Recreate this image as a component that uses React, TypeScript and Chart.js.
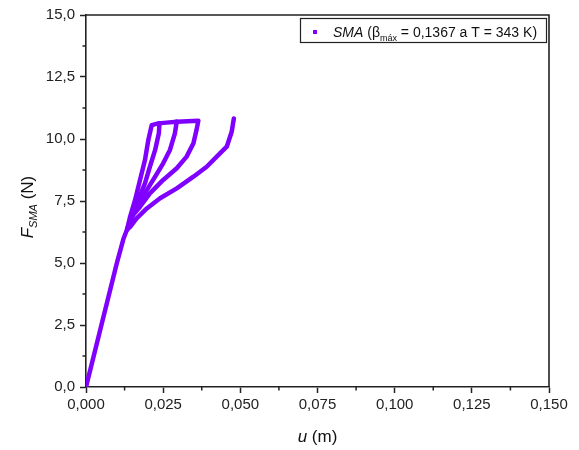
import React, { useEffect, useRef } from "react";
import { Chart, registerables } from "chart.js";

Chart.register(...registerables);

const COLOR = "#8000ff";
const FONT = "'Liberation Sans', Arial, sans-serif";

// x tick labels / y tick labels
const xTicks = [0, 0.025, 0.05, 0.075, 0.1, 0.125, 0.15];
const yTicks = [0, 2.5, 5, 7.5, 10, 12.5, 15];
const xMinor = [0.0125, 0.0375, 0.0625, 0.0875, 0.1125, 0.1375];
const yMinor = [1.25, 3.75, 6.25, 8.75, 11.25, 13.75];

// loading path + outermost curve
const uOuter = [0, 0.005, 0.01, 0.0122, 0.0133, 0.0143, 0.0164, 0.0197, 0.024, 0.0294, 0.0348, 0.0391, 0.0434, 0.0456, 0.0472, 0.0479];
const fOuter = [0, 2.5, 5.0, 6.0, 6.35, 6.46, 6.8, 7.2, 7.61, 8.01, 8.48, 8.88, 9.42, 9.69, 10.29, 10.83];

// inner curve A, plateau, curve D
const uLoopA = [0.0133, 0.0143, 0.0159, 0.0175, 0.0191, 0.0202, 0.0213, 0.0234, 0.0261, 0.0294, 0.0364, 0.0358, 0.0348, 0.0326, 0.0294, 0.025, 0.0207, 0.0175, 0.0153, 0.0133];
const fLoopA = [6.35, 6.87, 7.54, 8.35, 9.15, 9.96, 10.56, 10.63, 10.66, 10.7, 10.74, 10.36, 9.83, 9.29, 8.82, 8.35, 7.81, 7.27, 6.94, 6.35];

// inner curve B
const uCurveB = [0.0238, 0.0236, 0.0224, 0.0207, 0.0191, 0.0169, 0.0153, 0.0133];
const fCurveB = [10.63, 10.23, 9.56, 8.88, 8.21, 7.54, 7.0, 6.35];

// inner curve C
const uCurveC = [0.0294, 0.0288, 0.0272, 0.025, 0.0224, 0.0197, 0.0175, 0.0153, 0.0133];
const fCurveC = [10.7, 10.23, 9.56, 9.02, 8.48, 7.94, 7.41, 7.0, 6.35];

const toPts = (u: number[], f: number[]) => u.map((x, i) => ({ x, y: f[i] }));

const decorPlugin = {
  id: "decor",
  afterDraw(chart: any) {
    const ctx = chart.ctx as CanvasRenderingContext2D;
    const { left, right, top, bottom } = chart.chartArea;
    const xs = chart.scales.x;
    const ys = chart.scales.y;
    ctx.save();
    ctx.strokeStyle = "#222";
    ctx.lineWidth = 1.6;
    ctx.beginPath();
    ctx.moveTo(left, top);
    ctx.lineTo(right, top);
    ctx.lineTo(right, bottom);
    ctx.stroke();
    ctx.lineWidth = 1.5;
    ctx.beginPath();
    xMinor.forEach((v) => {
      const px = xs.getPixelForValue(v);
      ctx.moveTo(px, bottom);
      ctx.lineTo(px, bottom + 3.5);
    });
    yMinor.forEach((v) => {
      const py = ys.getPixelForValue(v);
      ctx.moveTo(left, py);
      ctx.lineTo(left - 3.5, py);
    });
    ctx.stroke();

    // legend
    const lx = 300, ly = 18, lw = 246, lh = 24;
    ctx.fillStyle = "#fff";
    ctx.fillRect(lx, ly, lw, lh);
    ctx.strokeStyle = "#222";
    ctx.lineWidth = 1.2;
    ctx.strokeRect(lx + 0.5, ly + 0.5, lw, lh);
    ctx.fillStyle = COLOR;
    ctx.fillRect(313, 30, 4, 4);
    ctx.fillStyle = "#111";
    ctx.textBaseline = "alphabetic";
    ctx.textAlign = "left";
    let tx = 333;
    const base = 37;
    ctx.font = `italic 14px ${FONT}`;
    ctx.fillText("SMA", tx, base);
    tx += ctx.measureText("SMA").width;
    ctx.font = `14px ${FONT}`;
    ctx.fillText(" (β", tx, base);
    tx += ctx.measureText(" (β").width;
    ctx.font = `9px ${FONT}`;
    ctx.fillText("máx", tx, base + 4);
    tx += ctx.measureText("máx").width;
    ctx.font = `14px ${FONT}`;
    ctx.fillText(" = 0,1367 a T = 343 K)", tx, base);

    // x title
    ctx.font = `italic 17px ${FONT}`;
    const wU = ctx.measureText("u").width;
    ctx.font = `17px ${FONT}`;
    const wM = ctx.measureText(" (m)").width;
    const cx = (left + right) / 2;
    const sx = cx - (wU + wM) / 2;
    ctx.font = `italic 17px ${FONT}`;
    ctx.fillText("u", sx, 442);
    ctx.font = `17px ${FONT}`;
    ctx.fillText(" (m)", sx + wU, 442);

    // y title
    ctx.translate(33, (top + bottom) / 2 + 6);
    ctx.rotate(-Math.PI / 2);
    ctx.font = `italic 17px ${FONT}`;
    const wF = ctx.measureText("F").width;
    ctx.font = `italic 11px ${FONT}`;
    const wS = ctx.measureText("SMA").width;
    ctx.font = `17px ${FONT}`;
    const wN = ctx.measureText(" (N)").width;
    let yx = -(wF + wS + wN) / 2;
    ctx.font = `italic 17px ${FONT}`;
    ctx.fillText("F", yx, 0);
    yx += wF;
    ctx.font = `italic 11px ${FONT}`;
    ctx.fillText("SMA", yx, 4);
    yx += wS;
    ctx.font = `17px ${FONT}`;
    ctx.fillText(" (N)", yx, 0);
    ctx.restore();
  },
};

export default function App() {
  const ref = useRef<HTMLCanvasElement | null>(null);
  useEffect(() => {
    if (!ref.current) return;
    const mk = (u: number[], f: number[]) => ({
      data: toPts(u, f),
      borderColor: COLOR,
      backgroundColor: COLOR,
      borderWidth: 4.5,
      pointRadius: 0,
      tension: 0,
      borderJoinStyle: "round" as const,
      borderCapStyle: "round" as const,
    });
    const chart = new Chart(ref.current, {
      type: "line",
      data: {
        datasets: [
          mk(uOuter, fOuter),
          mk(uLoopA, fLoopA),
          mk(uCurveB, fCurveB),
          mk(uCurveC, fCurveC),
        ],
      },
      options: {
        responsive: false,
        animation: false,
        devicePixelRatio: 1,
        layout: { padding: { top: 15, right: 30, left: 0, bottom: 0 } },
        plugins: { legend: { display: false }, tooltip: { enabled: false } },
        scales: {
          x: {
            type: "linear",
            min: 0,
            max: 0.15,
            afterBuildTicks: (s: any) => {
              s.ticks = xTicks.map((v) => ({ value: v }));
            },
            afterFit: (s: any) => {
              s.height = 63;
            },
            ticks: {
              callback: (v: any) => Number(v).toFixed(3).replace(".", ","),
              font: { family: FONT, size: 15 },
              color: "#222",
              padding: 3,
              maxRotation: 0,
              autoSkip: false,
            },
            grid: {
              display: true,
              drawOnChartArea: false,
              drawTicks: true,
              tickLength: 6,
              tickColor: "#222",
              tickWidth: 1.5,
            },
            border: { display: true, color: "#222", width: 1.6 },
          },
          y: {
            type: "linear",
            min: 0,
            max: 15,
            afterBuildTicks: (s: any) => {
              s.ticks = yTicks.map((v) => ({ value: v }));
            },
            afterFit: (s: any) => {
              s.width = 86;
            },
            ticks: {
              callback: (v: any) => Number(v).toFixed(1).replace(".", ","),
              font: { family: FONT, size: 15 },
              color: "#222",
              padding: 5,
              autoSkip: false,
            },
            grid: {
              display: true,
              drawOnChartArea: false,
              drawTicks: true,
              tickLength: 6,
              tickColor: "#222",
              tickWidth: 1.5,
            },
            border: { display: true, color: "#222", width: 1.6 },
          },
        },
      },
      plugins: [decorPlugin],
    } as any);
    return () => chart.destroy();
  }, []);
  return (
    <div style={{ position: "absolute", left: 0, top: 0, width: 579, height: 450, background: "#fff" }}>
      <canvas ref={ref} width={579} height={450} style={{ width: 579, height: 450, display: "block" }} />
    </div>
  );
}
